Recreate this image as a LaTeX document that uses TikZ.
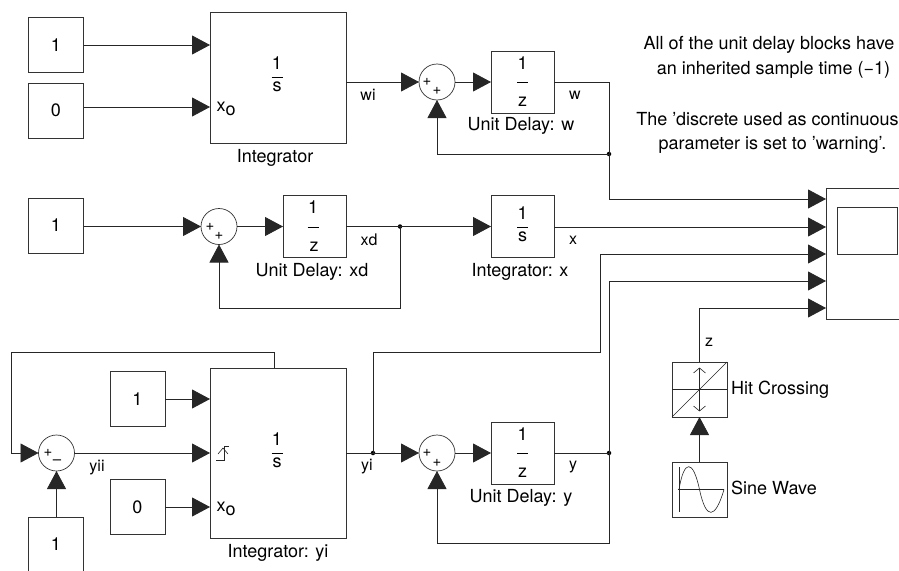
\documentclass[tikz,border=0pt]{standalone}
\usepackage{fontspec}
\setmainfont{TeX Gyre Heros}
\usepackage{tikz}
\usetikzlibrary{arrows.meta}

\begin{document}
\begin{tikzpicture}[x=1pt, y=-1pt, >={Triangle[length=18pt, width=19pt]}]
    \tikzstyle{block} = [rectangle, draw=black!80, line width=0.7pt, inner sep=0pt, outer sep=0pt, font=\fontsize{18}{18}\selectfont]
    \tikzstyle{const} = [block, minimum width=55pt, minimum height=55pt]
    \tikzstyle{delay} = [block, minimum width=63pt, minimum height=62pt]
    \tikzstyle{wave} = [block, minimum width=55pt, minimum height=55pt]
    \tikzstyle{integ} = [block, minimum width=136pt]
    \tikzstyle{sum} = [circle, draw=black!80, line width=0.7pt, inner sep=0pt, outer sep=0pt, minimum size=36pt]
    \tikzstyle{sign} = [inner sep=0pt, font=\fontsize{15}{15}\selectfont]
    \tikzstyle{txt} = [inner sep=0pt, font=\fontsize{18}{18}\selectfont]
    \tikzstyle{wirelbl} = [inner sep=0pt, font=\fontsize{16}{16}\selectfont]
    \tikzstyle{link} = [draw=black!85, line width=0.8pt]
    \tikzstyle{glyph} = [draw=black!85, line width=0.6pt]
    \tikzstyle{dot} = [circle, fill=black, inner sep=0pt, minimum size=4.5pt]

    \useasboundingbox (0,0) rectangle (899,570);
    \clip (0,0) rectangle (899,570);

    % top row
    \node [const] (cOneW) at (56,45) {1};
    \node [const] (cZeroW) at (56,110.5) {0};
    \node [integ, minimum height=131pt] (intW) at (278,77.5) {};
    \node [sum] (sumW) at (437,82) {};
    \node [delay] (delayW) at (522.5,82) {};
    \node [dot] (jWd) at (609,154) {};

    % middle row
    \node [const] (cOneX) at (56,225.5) {1};
    \node [sum] (sumX) at (219,226.5) {};
    \node [delay] (delayX) at (314.5,226.5) {};
    \node [dot] (jX) at (400,226.5) {};
    \node [delay] (intX) at (522.5,226.5) {};

    % bottom row
    \node [const] (cOneY) at (137.5,399) {1};
    \node [const] (cZeroY) at (137.5,507) {0};
    \node [const] (cOneS) at (56,544.5) {1};
    \node [sum] (sumS) at (56.5,453) {};
    \node [integ, minimum height=170pt] (intY) at (278,453) {};
    \node [dot] (jYi) at (373,453) {};
    \node [sum] (sumY) at (437,453) {};
    \node [delay] (delayY) at (522.5,453) {};
    \node [dot] (jY) at (609,453) {};

    % scope, hit crossing, sine
    \node [block, minimum width=90pt, minimum height=131pt] (scope) at (871,253.5) {};
    \node [block, minimum width=60pt, minimum height=47pt] (screen) at (867,230.5) {};
    \node [wave] (hit) at (699.5,389.5) {};
    \node [wave] (sine) at (699.5,489.5) {};

    % fractions
    \node [txt] (oneIW) at (277,63) {1};
    \node [txt] (barIW) at (277,77) {\rule{11pt}{0.6pt}};
    \node [txt] (sIW) at (277,87) {s};
    \node [txt] (oneIY) at (277,439) {1};
    \node [txt] (barIY) at (277,453) {\rule{11pt}{0.6pt}};
    \node [txt] (sIY) at (277,463) {s};
    \node [txt] (oneW) at (522.5,63) {1};
    \node [txt] (barW) at (522.5,82) {\rule{11pt}{0.6pt}};
    \node [txt] (zW) at (522.5,102) {z};
    \node [txt] (oneX) at (313,207) {1};
    \node [txt] (barX) at (313,227) {\rule{11pt}{0.6pt}};
    \node [txt] (zX) at (314,247) {z};
    \node [txt] (oneI) at (522.5,213) {1};
    \node [txt] (barI) at (522.5,227) {\rule{11pt}{0.6pt}};
    \node [txt] (sI) at (522.5,237) {s};
    \node [txt] (oneY) at (522.5,434) {1};
    \node [txt] (barY) at (522.5,453) {\rule{11pt}{0.6pt}};
    \node [txt] (zY) at (522.5,473) {z};

    % x0 ports
    \node [txt, anchor=west] (xoW) at (216.5,109) {x\raisebox{-4pt}{o}};
    \node [txt, anchor=west] (xoY) at (216.5,509) {x\raisebox{-4pt}{o}};

    % signs on the sums
    \node [sign] (pW1) at (427,82) {+};
    \node [sign] (pW2) at (437,91) {+};
    \node [sign] (pX1) at (210,227) {+};
    \node [sign] (pX2) at (219,236) {+};
    \node [sign] (pY1) at (427,453) {+};
    \node [sign] (pY2) at (437,463) {+};
    \node [sign] (pS1) at (48,453) {+};
    \node [sign] (pS2) at (57,462) {--};

    % signal labels
    \node [wirelbl] (lblWi) at (368,95) {wi};
    \node [wirelbl] (lblW) at (575,95) {w};
    \node [wirelbl] (lblXd) at (369,240) {xd};
    \node [wirelbl] (lblX) at (573,240) {x};
    \node [wirelbl] (lblYii) at (97,468) {yii};
    \node [wirelbl] (lblYi) at (367,467) {yi};
    \node [wirelbl] (lblY) at (573,467) {y};
    \node [wirelbl] (lblZ) at (709,342) {z};

    % block names
    \node [txt] (nameIntW) at (275,158) {Integrator};
    \node [txt] (nameDelayW) at (521,126) {Unit Delay: w};
    \node [txt] (nameDelayX) at (312,272) {Unit Delay: xd};
    \node [txt] (nameIntX) at (520,272) {Integrator: x};
    \node [txt] (nameDelayY) at (521,498) {Unit Delay: y};
    \node [txt] (nameIntY) at (278,553) {Integrator: yi};
    \node [txt, anchor=west] (nameHit) at (731,390) {Hit Crossing};
    \node [txt, anchor=west] (nameSine) at (731,488) {Sine Wave};

    % note
    \node [txt] (noteA) at (769,45) {All of the unit delay blocks have};
    \node [txt] (noteB) at (773.5,70) {an inherited sample time (\textminus1)};
    \node [txt] (noteC) at (767.5,119) {The ’discrete used as continuous};
    \node [txt] (noteD) at (772.5,145) {parameter is set to ’warning’.};

    % top row wires
    \draw [->, link] (cOneW.east) -- (intW.west |- cOneW.east);
    \draw [->, link] (cZeroW.east |- 0,107) -- (intW.west |- 0,107);
    \draw [->, link] (intW.east |- sumW.west) -- (sumW.west);
    \draw [->, link] (sumW.east) -- (delayW.west);
    \draw [link] (delayW.east) -| (jWd.center);
    \draw [->, link] (jWd.center) -- (sumW.south |- jWd.center) -- (sumW.south);
    \draw [->, link] (jWd.center) |- (scope.west |- 0,199);

    % middle row wires
    \draw [->, link] (cOneX.east |- sumX.west) -- (sumX.west);
    \draw [->, link] (sumX.east) -- (delayX.west);
    \draw [link] (delayX.east) -- (jX.center);
    \draw [->, link] (jX.center) |- (sumX.south |- 0,308) -- (sumX.south);
    \draw [->, link] (jX.center) -- (intX.west);
    \draw [->, link] (intX.east |- 0,227) -- (scope.west |- 0,227);

    % bottom row wires
    \draw [->, link] (cOneY.east) -- (intY.west |- cOneY.east);
    \draw [->, link] (cZeroY.east) -- (intY.west |- cZeroY.east);
    \draw [->, link] (sumS.east) -- (intY.west |- sumS.east);
    \draw [->, link] (sumS.south |- cOneS.north) -- (sumS.south);
    \draw [->, link] ([xshift=-4pt]intY.north) |- (11,352) |- (sumS.west);
    \draw [link] (intY.east |- jYi) -- (jYi.center);
    \draw [->, link] (jYi.center) -- (sumY.west);
    \draw [->, link] (jYi.center) |- (600,352) |- (scope.west |- 0,254);
    \draw [->, link] (sumY.east) -- (delayY.west);
    \draw [link] (delayY.east) -- (jY.center);
    \draw [->, link] (jY.center) |- (sumY.south |- 0,543) -- (sumY.south);
    \draw [->, link] (jY.center) |- (scope.west |- 0,281);

    % hit crossing wires
    \draw [->, link] (sine.north) -- (hit.south);
    \draw [->, link] (hit.north) |- (scope.west |- 0,308);

    % trigger glyph
    \draw [glyph] (216,460) -- (224,460) -- (224,446) -- (229,446);
    \draw [glyph] (218,454) -- (223,448) -- (228,454);

    % hit crossing glyph
    \draw [glyph] (hit.south west) -- (hit.north east);
    \draw [glyph] (hit.west) -- (hit.east);
    \draw [glyph] (hit.north) ++(0,6) -- ++(0,43);
    \draw [glyph] (hit.north) ++(-6,11) -- ++(6,-5) -- ++(6,5);
    \draw [glyph] (hit.south) ++(-6,-11) -- ++(6,5) -- ++(6,-5);

    % sine glyph
    \draw [glyph] (sine.north west) ++(7,5) -- ++(0,45);
    \draw [glyph] (sine.west) ++(6,0) -- ++(46,0);
    \draw [glyph] (679,489.5) .. controls (684,459) and (693,459) .. (699.5,489.5) .. controls (706,520) and (715,520) .. (724,489.5);
\end{tikzpicture}
\end{document}
